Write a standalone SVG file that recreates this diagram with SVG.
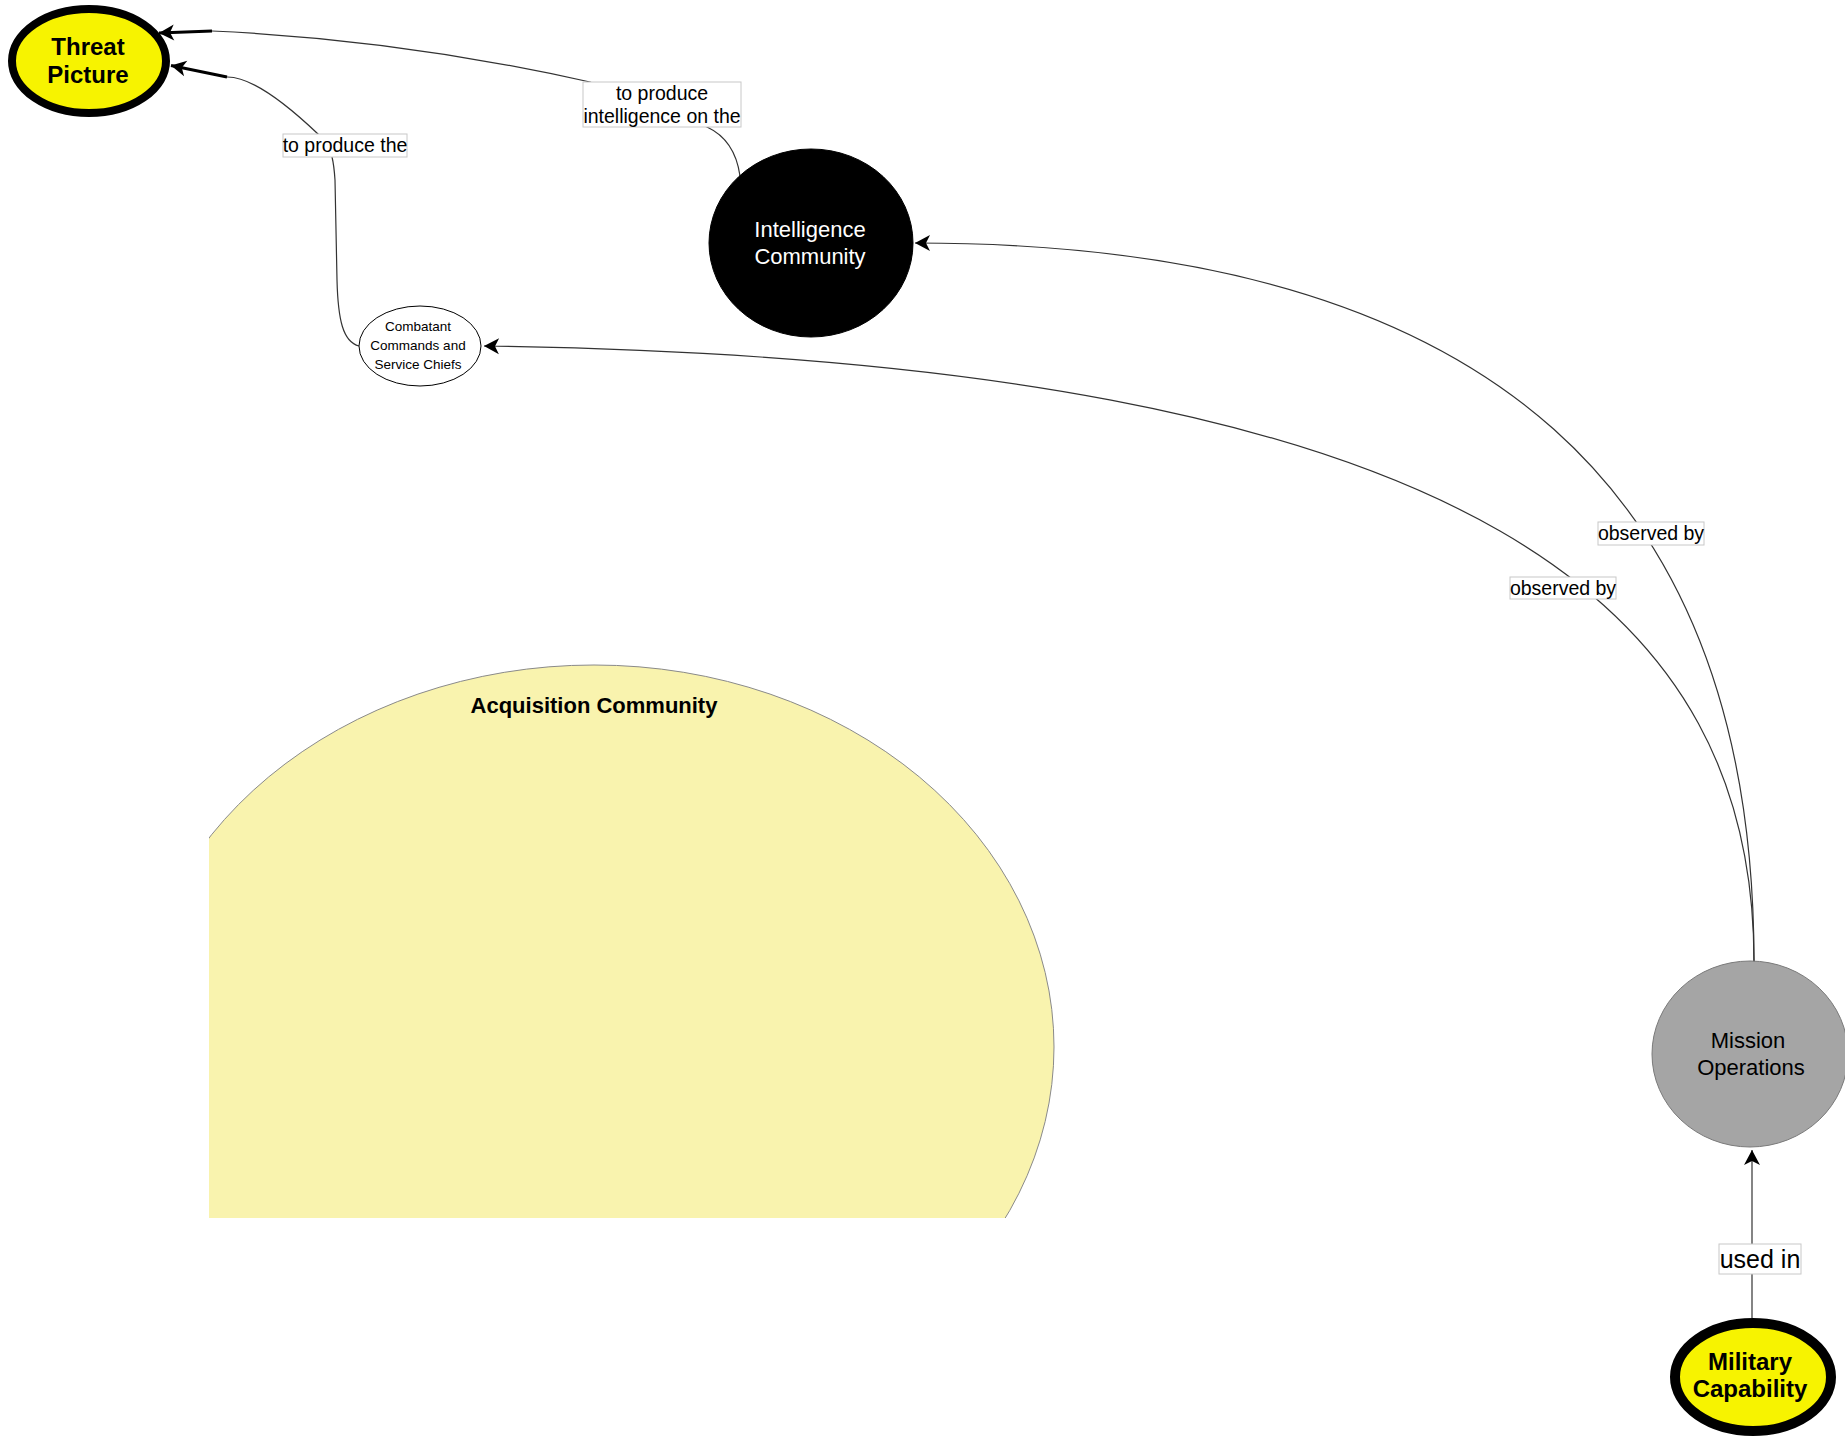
<svg xmlns="http://www.w3.org/2000/svg" width="1845" height="1440" viewBox="0 0 1845 1440">
<style>
  .edge { fill: none; stroke: #333; stroke-width: 1.2; }
  .thick { fill: none; stroke: #000; stroke-width: 3; }
  .lbl { fill: #fff; stroke: #c8c8c8; stroke-width: 1; }
  .ltxt { font-family: "Liberation Sans", Arial, sans-serif; font-size: 19.5px; fill: #000; text-anchor: middle; }
  .ntxt { font-family: "Liberation Sans", Arial, sans-serif; font-size: 22px; text-anchor: middle; }
  .btxt { font-family: "Liberation Sans", Arial, sans-serif; font-size: 24px; font-weight: bold; fill: #000; text-anchor: middle; }
</style>
<defs>
  <marker id="arr" markerUnits="userSpaceOnUse" markerWidth="18" markerHeight="18" viewBox="-16 -9 18 18" refX="0" refY="0" orient="auto">
    <path d="M0,0 L-15,-8 L-11,0 L-15,8 Z" fill="#000"/>
  </marker>
  <clipPath id="acqClip">
    <rect x="209" y="0" width="1636" height="1218"/>
  </clipPath>
</defs>
<rect x="0" y="0" width="1845" height="1440" fill="#fff"/>

<g id="acquisition-community">
  <ellipse cx="594" cy="1047" rx="460" ry="382" fill="#f9f3ae" stroke="#8a8a8a" stroke-width="1" clip-path="url(#acqClip)"/>
  <text x="594" y="713" class="btxt" style="font-size:22px">Acquisition Community</text>
</g>

<g id="connectors">
  <!-- Mission Operations -> Intelligence Community -->
  <path class="edge" d="M1754,962 C1754,500 1500,243 915,243" marker-end="url(#arr)"/>
  <!-- Mission Operations -> Combatant Commands -->
  <path class="edge" d="M1754,962 C1754,620 1500,360 484,346" marker-end="url(#arr)"/>
  <!-- Intelligence Community -> Threat Picture -->
  <path class="edge" d="M740,176 Q735,140 707,127 L590,82 Q401,39.5 212,31"/>
  <path class="thick" d="M212,31 L159,33" marker-end="url(#arr)"/>
  <!-- Combatant Commands -> Threat Picture -->
  <path class="edge" d="M359,346 C343,342 338,320 337,280 L335,180 Q334,165 332,157 L318,134 Q257.5,76.5 227,77"/>
  <path class="thick" d="M227,77 L171,65.5" marker-end="url(#arr)"/>
  <!-- Military Capability -> Mission Operations -->
  <path class="edge" d="M1752,1318 L1752,1150" marker-end="url(#arr)"/>

  <g id="label-to-produce-intel">
    <rect class="lbl" x="583" y="82" width="158" height="45"/>
    <text class="ltxt" x="662" y="100">to produce</text>
    <text class="ltxt" x="662" y="123">intelligence on the</text>
  </g>
  <g id="label-to-produce-the">
    <rect class="lbl" x="283" y="134" width="124" height="23"/>
    <text class="ltxt" x="345" y="152">to produce the</text>
  </g>
  <g id="label-observed-by-1">
    <rect class="lbl" x="1598" y="522" width="106" height="23"/>
    <text class="ltxt" x="1651" y="540">observed by</text>
  </g>
  <g id="label-observed-by-2">
    <rect class="lbl" x="1510" y="577" width="106" height="22"/>
    <text class="ltxt" x="1563" y="595">observed by</text>
  </g>
  <g id="label-used-in">
    <rect class="lbl" x="1719" y="1244" width="82" height="30"/>
    <text class="ltxt" x="1760" y="1268" style="font-size:25px">used in</text>
  </g>
</g>

<g id="threat-picture">
  <ellipse cx="89" cy="61" rx="77" ry="52" fill="#f7f300" stroke="#000" stroke-width="8"/>
  <text class="btxt" x="88" y="55">Threat</text>
  <text class="btxt" x="88" y="83">Picture</text>
</g>

<g id="intelligence-community">
  <ellipse cx="811" cy="243" rx="102" ry="94" fill="#000" stroke="#000" stroke-width="1"/>
  <text class="ntxt" x="810" y="237" fill="#fff">Intelligence</text>
  <text class="ntxt" x="810" y="264" fill="#fff">Community</text>
</g>

<g id="combatant-commands">
  <ellipse cx="420" cy="346" rx="61" ry="40" fill="#fff" stroke="#000" stroke-width="1"/>
  <text class="ntxt" x="418" y="331" fill="#000" style="font-size:13.5px">Combatant</text>
  <text class="ntxt" x="418" y="350" fill="#000" style="font-size:13.5px">Commands and</text>
  <text class="ntxt" x="418" y="369" fill="#000" style="font-size:13.5px">Service Chiefs</text>
</g>

<g id="mission-operations">
  <ellipse cx="1750" cy="1054" rx="98" ry="93" fill="#a5a5a5" stroke="#7a7a7a" stroke-width="1"/>
  <text class="ntxt" x="1748" y="1048" fill="#000">Mission</text>
  <text class="ntxt" x="1751" y="1075" fill="#000">Operations</text>
</g>

<g id="military-capability">
  <ellipse cx="1753" cy="1377" rx="78" ry="54" fill="#f7f300" stroke="#000" stroke-width="10"/>
  <text class="btxt" x="1750" y="1370">Military</text>
  <text class="btxt" x="1750" y="1397">Capability</text>
</g>
</svg>
